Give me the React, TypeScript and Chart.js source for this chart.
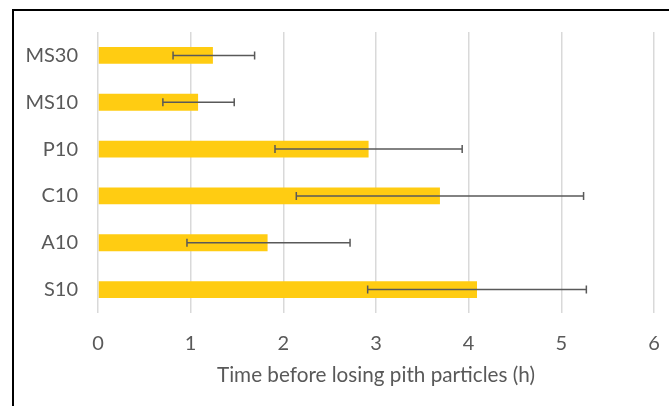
import React, { useEffect, useRef } from "react";
import { Chart, registerables } from "chart.js";

Chart.register(...registerables);

const categories = ["MS30", "MS10", "P10", "C10", "A10", "S10"];
const meanHours = [1.24, 1.08, 2.92, 3.69, 1.83, 4.09];
const errorLow = [0.81, 0.70, 1.91, 2.14, 0.96, 2.91];
const errorHigh = [1.69, 1.47, 3.93, 5.24, 2.72, 5.27];
const xTicks = [0, 1, 2, 3, 4, 5, 6];
const xTitle = "Time before losing pith particles (h)";

const FONT = "Lato, 'Noto Sans', sans-serif";
const TEXT = "#595959";

const errorBarPlugin = {
  id: "errorBars",
  afterDatasetsDraw(chart: any) {
    const ctx = chart.ctx;
    const xs = chart.scales.x;
    const ys = chart.scales.y;
    ctx.save();
    ctx.strokeStyle = "#595959";
    ctx.lineWidth = 1.5;
    categories.forEach((_, i) => {
      const y = ys.getPixelForValue(i);
      const x1 = xs.getPixelForValue(errorLow[i]);
      const x2 = xs.getPixelForValue(errorHigh[i]);
      ctx.beginPath();
      ctx.moveTo(x1, y);
      ctx.lineTo(x2, y);
      ctx.moveTo(x1, y - 4);
      ctx.lineTo(x1, y + 4);
      ctx.moveTo(x2, y - 4);
      ctx.lineTo(x2, y + 4);
      ctx.stroke();
    });
    ctx.restore();
  },
};

export default function App() {
  const ref = useRef<HTMLCanvasElement | null>(null);
  useEffect(() => {
    document.body.style.margin = "0";
    const chart = new Chart(ref.current as HTMLCanvasElement, {
      type: "bar",
      data: {
        labels: categories,
        datasets: [
          {
            data: meanHours,
            backgroundColor: "#FFCC12",
            borderWidth: 0,
            barPercentage: 0.36,
            categoryPercentage: 1,
          },
        ],
      },
      options: {
        indexAxis: "y",
        animation: false,
        responsive: false,
        layout: { padding: { top: 31, right: 15, left: 0, bottom: 0 } },
        plugins: { legend: { display: false }, tooltip: { enabled: false } },
        scales: {
          x: {
            min: 0,
            max: 6,
            afterBuildTicks: (s: any) => {
              s.ticks = xTicks.map((v) => ({ value: v }));
            },
            afterFit: (s: any) => {
              s.height = 93;
            },
            grid: {
              color: "#d9d9d9",
              lineWidth: 1.5,
              drawTicks: true,
              tickLength: 19,
              tickColor: "rgba(0,0,0,0)",
            },
            border: { display: false },
            ticks: { color: TEXT, font: { family: FONT, size: 20 }, padding: 0 },
            title: {
              display: true,
              text: xTitle,
              color: TEXT,
              font: { family: FONT, size: 20.7 },
              padding: { top: 0, bottom: 18 },
            },
          },
          y: {
            afterFit: (s: any) => {
              s.width = 98;
            },
            grid: { display: false, drawTicks: false },
            border: { display: false },
            ticks: { color: TEXT, font: { family: FONT, size: 20 }, padding: 20 },
          },
        },
      },
      plugins: [errorBarPlugin],
    } as any);
    return () => chart.destroy();
  }, []);
  return (
    <div style={{ position: "relative", width: 669, height: 406, background: "#fff", overflow: "hidden" }}>
      <div
        style={{
          position: "absolute",
          left: 12,
          top: 9,
          width: 700,
          height: 500,
          borderLeft: "2px solid #000",
          borderTop: "2px solid #000",
        }}
      />
      <canvas ref={ref} width={669} height={406} style={{ position: "absolute", left: 0, top: 0 }} />
    </div>
  );
}
